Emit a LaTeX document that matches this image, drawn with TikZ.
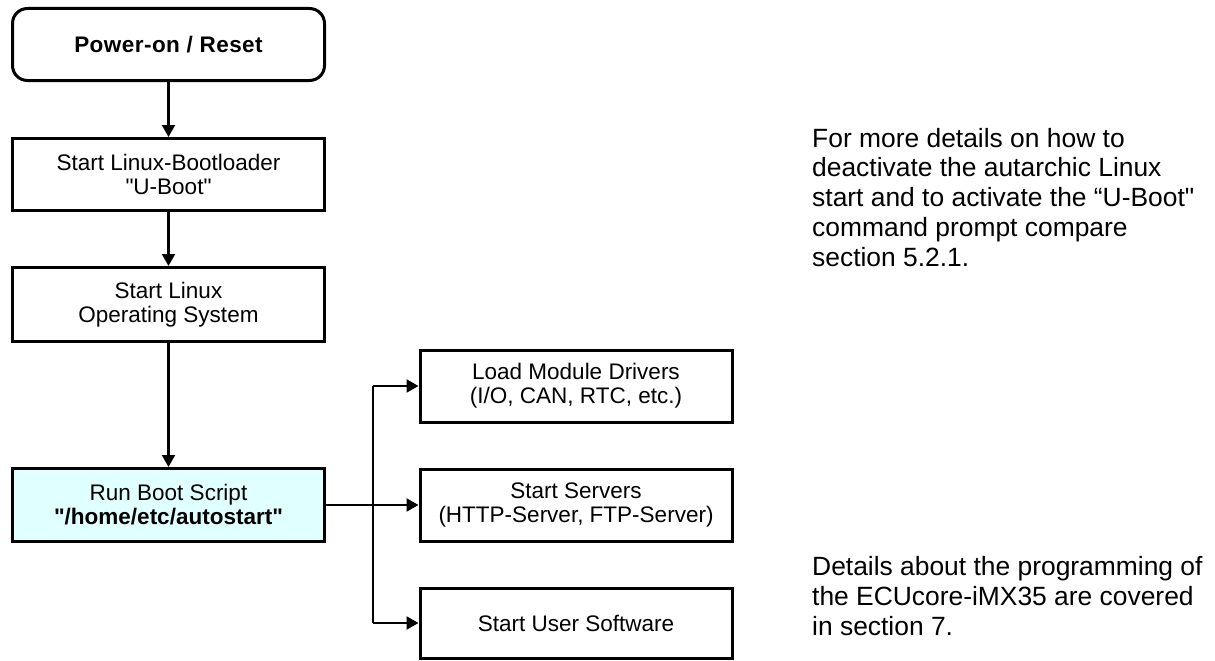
\documentclass[tikz,border=0pt]{standalone}
\usepackage{fontspec}
\setmainfont{Liberation Sans}[Ligatures=TeXOff]
\usetikzlibrary{arrows.meta}
\definecolor{bootfill}{RGB}{224,255,255}
\tikzset{
  boxbase/.style={draw=black, line width=3pt, minimum width=312pt, align=center, inner sep=2pt,
    font=\fontsize{22.5}{24}\selectfont},
  startbox/.style={boxbase, rounded corners=15pt, minimum height=72pt},
  procbox/.style={boxbase, minimum height=72pt},
  arr/.style={line width=2.2pt, -{Triangle[length=12pt,width=13pt]}},
  link/.style={line width=2.2pt},
  note/.style={anchor=base west, align=left, inner sep=0pt, font=\fontsize{26.4}{29.7}\selectfont}
}
\begin{document}
\begin{tikzpicture}[x=1pt,y=-1pt]
\useasboundingbox (0,0) rectangle (1215,661);
\node[startbox] (pwr) at (168.5,44.5) {\addfontfeature{LetterSpace=2}\bfseries Power-on / Reset};
\node[procbox] (ub) at (168.5,174.5) {Start Linux-Bootloader\\"U-Boot"};
\node[procbox, minimum height=74pt] (os) at (168.5,304.5) {Start Linux\\Operating System};
\node[procbox, minimum height=73pt, fill=bootfill] (bs) at (168.5,505) {Run Boot Script\\\textbf{"/home/etc/autostart"}};
\node[procbox] (drv) at (576,386) {Load Module Drivers\\(I/O, CAN, RTC, etc.)};
\node[procbox] (srv) at (576,505) {Start Servers\\(HTTP-Server, FTP-Server)};
\node[procbox, minimum height=70pt] (usr) at (576,623) {Start User Software};

\draw[arr] (pwr) -- (ub);
\draw[arr] (ub) -- (os);
\draw[arr] (os) -- (bs);
\draw[arr] (bs) -- (srv);
\coordinate (br) at (373,505);
\draw[link] (br) -- (br |- drv.west);
\draw[link] (br) -- (br |- usr.west);
\draw[arr] (br |- drv.west) -- (drv.west);
\draw[arr] (br |- usr.west) -- (usr.west);

\node[note] (n1) at (812,266) {For more details on how to\\deactivate the autarchic Linux\\start and to activate the “U-Boot"\\command prompt compare\\section 5.2.1.};
\node[note] (n2) at (812,635) {Details about the programming of\\the ECUcore-iMX35 are covered\\in section 7.};
\end{tikzpicture}
\end{document}
